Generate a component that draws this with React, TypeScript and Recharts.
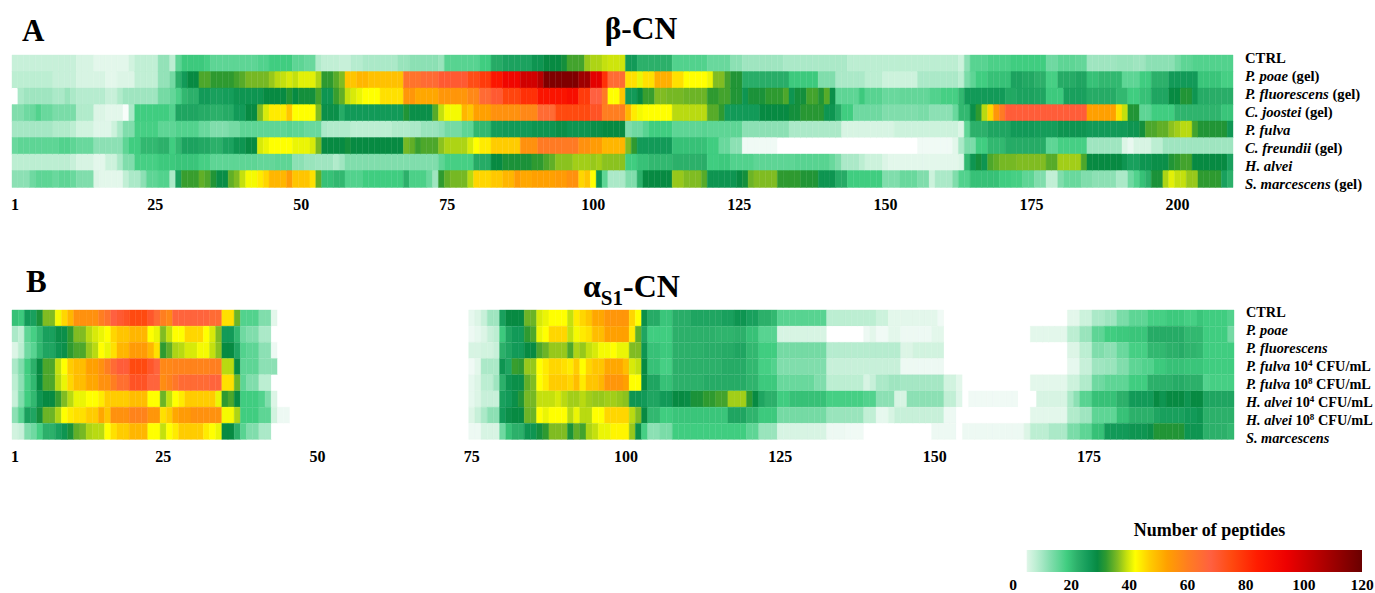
import { Bar, BarChart, Cell, XAxis, YAxis } from 'recharts';

// each run is [last residue of the run, number of peptides]
const betaCtrl = [[11,7],[14,5.5],[20,4],[21,6],[25,7.5],[27,11.5],[28,8],[29,16],[33,19],[34,18],[42,16],[44,17],[48,18.5],[50,16],[52,15],[53,9],[56,7.5],[58,7],[60,8.5],[66,9.5],[68,11],[73,12],[74,11],[80,16.5],[82,18.5],[84,23],[89,24.5],[91,27],[94,29],[95,30],[98,33],[99,37],[101,38],[102,39],[105,39.5],[107,26],[113,22],[119,17],[123,15],[125,12],[132,10.5],[143,9.5],[162,8],[163,6.5],[164,12],[167,16.5],[171,17.5],[177,18.5],[179,14.5],[182,16],[184,15.5],[189,10.5],[192,11],[194,10.5],[199,12],[200,14],[202,16],[209,17]];
const betaPoae = [[7,8],[11,7],[16,5.5],[18,4],[21,5],[25,7.5],[27,11.5],[28,14],[29,22],[30,26],[32,29],[34,33.5],[38,32],[39,33],[40,34],[44,35.5],[45,37],[46,38.5],[47,39],[48,40],[49,39],[52,40.5],[53,38],[55,32],[56,34],[57,36],[59,48],[61,50],[67,48.5],[70,63],[73,65],[78,70],[80,74],[82,78],[84,86],[87,92],[90,100],[91,105],[97,116],[99,110],[101,96],[102,80],[105,65],[107,45],[108,41],[110,45],[113,51],[115,45],[119,42],[120,41],[122,36],[123,33],[125,31],[133,22.5],[138,19],[139,13],[141,13],[146,9.5],[149,8],[155,6.5],[162,9.5],[163,8],[164,13.5],[165,16],[167,18.5],[171,20],[173,24.5],[175,23.5],[177,22],[179,18],[182,23],[184,24],[186,20],[190,21],[193,16],[195,18.5],[198,22],[203,26],[207,19.5],[209,18]];
const betaFluorescens = [[1,0],[2,9.5],[7,10.5],[9,9.5],[10,11],[11,9.5],[16,8.5],[18,7],[19,9],[25,10.5],[27,14],[28,15.5],[29,17.5],[30,21],[32,22],[34,26],[36,25],[38,25.5],[43,27],[47,29],[48,31],[49,29],[52,30],[53,33],[55,27],[56,32.5],[57,34.5],[58,39],[59,40],[60,41],[63,42],[67,45],[69,55],[73,52],[78,55],[80,58],[82,65],[84,70],[87,76],[90,80],[95,87],[97,89],[99,78],[101,68],[102,61],[104,42],[105,48],[107,26],[108,29],[110,32.5],[112,36],[115,35.5],[119,35],[121,32],[123,33],[125,31],[126,27],[129,30.5],[132,32],[133,33.5],[134,27],[136,30],[138,33],[139,31],[140,34],[141,28],[145,16],[146,19],[149,16.5],[152,15],[157,15.5],[159,17],[162,18],[163,21],[170,26],[172,23.5],[175,24.5],[177,24],[180,19],[184,25],[189,23],[191,21],[193,18.5],[195,20],[198,24],[200,29],[202,31],[203,27],[205,23],[209,22.5]];
const betaJoostei = [[2,13],[3,14.5],[4,15],[5,17],[7,15],[11,13.5],[14,9],[16,5],[19,4],[20,1],[21,9.5],[27,18.5],[28,17],[32,24],[34,23],[36,22],[38,23],[40,26],[42,29],[43,36],[44,40],[47,44],[48,48],[52,42],[53,36],[56,28],[57,23],[67,26],[68,31],[72,28],[73,34],[74,39],[77,41.5],[78,50],[79,48],[82,53],[87,56],[90,58],[93,65],[99,75],[101,72],[105,60],[106,50],[107,44],[108,41.5],[113,42],[119,38.5],[121,34],[122,32],[128,26],[133,29],[135,30],[139,31.5],[141,27],[142,23],[144,18.5],[149,14.5],[155,13],[157,13.5],[161,12],[162,15],[164,21],[165,28],[166,32],[167,38.5],[168,46],[169,55],[170,61],[184,69],[189,53],[190,45],[191,39],[193,31],[195,16],[199,18.5],[207,21.5],[209,19.5]];
const betaFulva = [[7,10],[10,9],[11,8],[14,6],[17,4.5],[18,6.5],[19,9.5],[21,13],[25,18],[28,16],[32,17],[34,15],[37,13],[39,14],[47,16],[48,16.5],[50,16],[53,15],[54,9.5],[58,9],[65,8],[68,9],[70,9.5],[73,11],[74,12],[77,14],[79,16],[82,21],[84,25.5],[89,26],[93,27],[95,28],[99,27],[101,28],[105,29],[106,13],[108,14.5],[109,16.5],[113,18.5],[118,16],[119,16.5],[125,16],[133,12],[142,9.5],[151,5.5],[162,6.5],[163,5],[164,16],[167,22],[171,24],[175,26],[179,25.5],[184,27],[191,26],[193,27],[194,30],[196,33.5],[198,34.5],[199,36.5],[200,37.5],[202,38.5],[203,33],[208,31],[209,26.5]];
const betaFreundii = [[1,15],[8,16],[10,17],[11,16],[14,15],[19,12],[20,16],[22,18.5],[25,21],[27,22],[28,18.5],[29,21],[32,24.5],[34,23.5],[36,22],[38,24.5],[40,27],[42,29],[43,40],[44,41],[48,42],[51,41],[52,40],[53,35.5],[57,29],[58,30],[67,29],[68,35.5],[69,34.5],[70,32.5],[73,33.5],[74,36.5],[78,38],[79,40],[80,42],[82,44],[87,47],[90,56],[97,61],[99,56],[101,54],[105,50],[106,36],[107,32],[113,26],[119,20],[121,18.5],[123,15],[125,12],[131,2],[155,0],[161,2],[162,4],[163,9.5],[165,13.5],[167,18.5],[170,21],[177,23],[179,16],[184,18],[190,10.5],[191,5],[192,3],[195,5.5],[197,8],[209,10.5]];
const betaAlvei = [[10,8],[11,7],[14,5.5],[16,4],[18,6.5],[19,9.5],[21,13],[25,18],[28,19],[32,19.5],[34,18],[42,16],[45,15.5],[48,16],[50,12],[52,11],[55,10.5],[56,9],[57,10.5],[65,13],[73,13],[74,16],[79,18],[82,23],[84,29],[89,30.5],[91,32],[92,33.5],[93,34.5],[96,36.5],[99,37.5],[100,37],[101,37.5],[105,36.5],[107,18.5],[109,20],[113,21],[118,22],[119,22.5],[121,18.5],[123,19],[127,17],[134,16],[140,16.5],[141,15],[142,13],[145,9.5],[146,8],[149,6.5],[150,5],[162,4],[163,5],[164,21],[165,27],[166,30],[167,27],[168,33.5],[169,34.5],[172,35.5],[177,36],[179,34],[183,37.5],[184,33.5],[190,29],[191,27],[193,25],[195,27],[198,28],[199,31],[200,32],[202,33],[208,29],[209,25]];
const betaMarcescens = [[3,12],[4,14.5],[7,16],[8,15],[10,16],[11,15],[14,13],[15,5],[19,4],[20,7.5],[22,9.5],[23,12],[25,16],[27,17],[28,9.5],[29,25],[32,32.5],[33,34.5],[34,33.5],[35,31],[37,28.5],[38,34.5],[39,36],[40,39],[42,41.5],[43,44],[44,46],[47,50],[48,54],[51,48],[52,45],[53,34.5],[55,20],[57,21],[60,17],[67,18.5],[68,22],[71,17.5],[72,15],[73,10.5],[74,32],[75,34.5],[78,35.5],[79,38.5],[82,46],[84,47.5],[86,50],[87,54],[89,52],[93,53],[95,54],[97,56],[98,46],[99,48],[100,42],[101,27],[102,16],[105,9.5],[107,13],[108,22],[113,29],[115,37],[118,36],[119,34],[124,27],[125,29],[126,30],[127,35],[131,36],[135,32],[138,31],[141,27],[143,23],[149,18.5],[152,13],[155,15],[157,13],[158,6.5],[161,9.5],[162,13],[164,17],[169,20],[171,18.5],[173,18],[175,16],[177,13],[179,7.5],[180,13],[183,15],[185,13],[189,12],[191,9.5],[192,14.5],[193,17],[194,20],[195,22],[197,30.5],[198,38],[199,40.5],[201,39],[203,37],[207,32],[208,25],[209,22]];

const alphaCtrl = [[1,20],[2,19],[3,26],[4,25],[5,30.5],[7,36],[8,41.5],[9,46],[10,50],[14,56],[15,60],[16,63],[17,68],[18,70],[19,72],[22,75],[23,71],[24,65],[25,60],[26,58],[32,67],[34,65],[36,45],[37,35],[40,17],[42,13],[43,4],[74,0],[75,3.5],[76,5],[77,7],[79,10.5],[80,25],[83,29],[85,35],[86,40],[87,41],[90,42],[91,39],[92,44],[93,46],[94,48],[96,52],[100,55],[101,46],[102,42],[103,28],[105,23],[107,19.5],[110,22.5],[115,24],[117,25],[119,27],[121,25],[123,22],[124,21],[132,16.5],[134,8],[140,8],[142,6.5],[150,4],[151,2],[171,0],[173,4],[175,6.5],[177,9.5],[179,10.5],[181,13.5],[184,16],[187,18],[190,19],[192,18],[193,19.5],[197,18.5],[198,17]];
const alphaPoae = [[1,9.5],[2,7.5],[3,16],[4,18],[5,21],[7,25],[9,28],[10,32],[12,36],[13,38.5],[14,40],[15,41],[16,42],[17,46],[19,48],[22,50],[23,42],[24,41],[25,36],[26,39],[28,42],[31,46],[32,42],[33,40],[34,36],[36,26],[37,21],[38,14.5],[40,13],[42,9.5],[74,0],[75,2.5],[76,3.5],[77,5],[78,7],[79,8],[80,19],[81,24],[83,26],[84,32],[85,33.5],[86,41],[87,42],[90,46],[91,39],[92,41.5],[93,44],[94,45],[96,49],[100,53],[101,44],[102,34.5],[103,24],[107,18.5],[114,22],[117,21.5],[119,22],[121,20],[124,16.5],[132,5.5],[138,0],[139,2.5],[140,4],[142,2],[144,4],[149,2.5],[151,4],[165,0],[171,4],[173,8],[175,11],[177,16],[179,18.5],[181,19],[184,19.5],[190,23],[193,21],[197,18.5],[198,14]];
const alphaFluorescens = [[1,5],[2,8],[3,14.5],[4,16.5],[5,21],[7,24],[8,27],[9,28],[10,32],[12,33.5],[13,37],[14,38.5],[15,42],[16,41],[17,45],[19,50],[22,54],[23,50],[24,45],[25,32],[26,34.5],[27,38],[28,38.5],[30,40],[32,41.5],[33,39],[34,36.5],[36,29],[37,24],[38,17],[40,16],[42,12],[43,2.5],[74,0],[76,5.5],[78,6],[79,7],[80,22],[81,24],[83,26],[85,29],[86,33.5],[87,35],[90,37],[91,33.5],[92,38],[93,37],[94,39],[95,40],[97,41.5],[98,42],[100,41],[102,36],[103,27],[105,20],[107,19],[112,22],[115,22.5],[117,23],[119,24],[121,21],[124,18.5],[132,14],[144,8.5],[146,5],[151,6],[171,0],[173,5],[175,8],[177,13],[179,12],[181,15],[184,18],[187,21],[189,22],[190,23],[192,21.5],[193,21],[198,18.5]];
const alphaFulva4 = [[1,9.5],[2,13],[3,18.5],[4,22],[5,29],[7,33.5],[8,39],[9,42],[10,47],[12,49],[14,53],[15,56],[16,60],[17,65],[19,69],[22,75],[23,71],[24,67],[26,58],[32,59],[34,60],[36,38.5],[37,29],[40,16],[43,12],[74,0],[75,2],[76,4],[79,9.5],[80,27],[81,24],[82,32.5],[83,32],[85,37],[86,42],[87,44],[89,46],[90,45],[91,44],[92,47],[93,42],[94,46],[96,48],[99,52],[100,49],[101,40],[102,39],[103,29],[105,20],[107,18],[115,22],[119,23],[121,21],[123,18],[124,17],[132,13],[144,7],[151,2.5],[171,0],[173,3.5],[175,7],[177,10.5],[179,11],[181,13],[183,16],[185,17],[187,19],[190,20],[193,19.5],[198,18.5]];
const alphaFulva8 = [[1,8],[2,12],[3,18],[4,21],[5,29],[7,33.5],[8,38.5],[9,41],[10,46],[12,49],[14,52],[16,56],[17,60],[19,64],[22,72],[24,67],[25,57],[26,59],[27,62],[32,65],[34,67],[36,45],[37,35],[38,16],[40,13],[42,8],[74,0],[75,3.5],[76,5],[78,8],[79,10.5],[80,22],[81,27],[83,28],[84,34.5],[85,36],[86,42],[87,44],[90,47],[91,46],[92,49],[93,44],[95,48],[96,50],[99,55],[100,53],[102,42],[103,29],[105,24],[107,20],[112,22],[119,23],[121,21.5],[124,19],[130,15],[132,13],[138,8],[139,5.5],[140,7],[142,9.5],[144,10.5],[151,10],[153,6],[154,4],[165,0],[171,4],[173,6.5],[175,9],[177,14.5],[181,16],[184,18.5],[188,22],[190,23],[193,22],[194,17],[198,18]];
const alphaAlvei4 = [[1,7],[2,13],[3,18.5],[4,21],[5,27],[7,29],[8,32.5],[9,36],[10,38.5],[12,41],[14,42],[15,44],[19,47],[22,49],[24,42],[25,35],[26,39],[27,42],[28,44],[33,47],[34,41],[35,32],[36,33.5],[37,29],[40,18.5],[41,17],[42,13],[43,5],[74,0],[75,3.5],[76,5],[79,7],[80,25],[81,26],[82,28],[83,31],[85,35.5],[87,39],[88,39],[89,40],[90,38.5],[92,37.5],[93,38.5],[94,37.5],[96,37],[98,37.5],[99,37],[100,36.5],[102,27],[103,26],[105,24],[107,26],[109,29],[110,28.5],[112,30.5],[114,32],[116,33],[119,37.5],[120,32],[121,29],[122,24],[124,22],[126,18.5],[132,20],[138,18],[140,17],[143,12],[145,5.5],[151,12],[153,7.5],[154,4.5],[155,0],[163,2],[166,0],[171,5.5],[172,9.5],[173,12],[175,16.5],[179,20],[181,22],[185,26],[186,29],[187,27],[190,29],[191,27],[193,29],[198,24]];
const alphaAlvei8 = [[1,12],[2,16.5],[3,25],[4,24],[5,30],[7,35],[8,38],[9,42],[10,44],[12,45],[14,47],[15,52],[16,48],[19,56],[22,59],[24,55],[25,45],[26,47],[27,52],[29,54],[34,56],[36,41.5],[37,38],[40,18.5],[42,16],[43,6],[45,2.5],[74,0],[75,5],[76,7],[77,9.5],[79,12],[80,26],[81,28],[83,29],[85,35],[86,42],[87,41],[90,42],[91,38.5],[92,41],[94,38.5],[96,42],[100,46],[101,38.5],[102,36],[103,29],[105,21],[107,18.5],[116,19.5],[119,24],[121,21.5],[124,19],[132,14],[138,11],[140,7.5],[142,3.5],[143,5.5],[151,7],[153,2.5],[165,0],[171,4],[173,9],[175,10.5],[179,16],[181,20],[185,22],[186,24],[190,25],[192,26],[193,27],[198,22]];
const alphaMarcescens = [[1,6],[2,7],[3,13],[4,14.5],[5,18],[7,22],[8,25],[9,27],[10,30.5],[11,34.5],[12,35.5],[13,38],[15,38.5],[16,42],[17,45],[19,47],[22,50],[24,42],[25,39],[26,42],[27,44],[31,47],[32,44],[33,42],[34,41],[36,29],[37,22],[38,16.5],[40,13],[42,9.5],[74,0],[76,2.5],[79,5.5],[80,14.5],[81,20],[83,22],[85,27],[86,30],[87,32],[90,36],[91,30.5],[92,34.5],[93,33],[94,38],[95,39],[97,41],[100,43],[101,37],[102,28],[103,18],[105,12],[107,13.5],[119,18.5],[121,16],[124,11],[132,5.5],[135,2.5],[138,2],[149,0],[153,2.5],[154,0],[164,2.5],[165,5],[168,8],[171,9.5],[173,13.5],[175,16],[177,20],[179,26],[181,26],[184,27],[185,28],[190,31],[193,27],[197,22],[198,21]];

const betaRows = [betaCtrl, betaPoae, betaFluorescens, betaJoostei, betaFulva, betaFreundii, betaAlvei, betaMarcescens];
const alphaRows = [alphaCtrl, alphaPoae, alphaFluorescens, alphaFulva4, alphaFulva8, alphaAlvei4, alphaAlvei8, alphaMarcescens];

// [italic part, plain part]
const betaLabels = [['', 'CTRL'], ['P. poae', ' (gel)'], ['P. fluorescens', ' (gel)'], ['C. joostei', ' (gel)'], ['P. fulva', ''], ['C. freundii', ' (gel)'], ['H. alvei', ''], ['S. marcescens', ' (gel)']];
const alphaLabels = [['', 'CTRL'], ['P. poae', ''], ['P. fluorescens', ''], ['P. fulva', ' 10^4 CFU/mL'], ['P. fulva', ' 10^8 CFU/mL'], ['H. alvei', ' 10^4 CFU/mL'], ['H. alvei', ' 10^8 CFU/mL'], ['S. marcescens', '']];

const betaTicks = [1, 25, 50, 75, 100, 125, 150, 175, 200];
const alphaTicks = [1, 25, 50, 75, 100, 125, 150, 175];
const legendTicks = [0, 20, 40, 60, 80, 100, 120];

const colorStops: [number, string][] = [
  [0, '#ffffff'], [2, '#f0faf5'], [5, '#dcf5e6'], [8, '#bceed2'], [10, '#a5e7c4'], [13, '#80ddac'], [16, '#5ed595'], [18.5, '#40cd80'],
  [22, '#2cb06a'], [26, '#129a58'], [29, '#078a42'], [32, '#2e9a30'], [36, '#80bc22'], [39, '#c4e00e'], [42, '#ffff00'], [47, '#ffcc00'],
  [53, '#ffa000'], [60, '#ff7e20'], [68, '#ff6040'], [75, '#ff4a10'], [84, '#ff1c00'], [94, '#ee0000'], [105, '#b80000'], [120, '#6a0000'],
];

const serif = '"Liberation Serif", "Times New Roman", serif';
const topRoom = 14;

function toRgb(hex: string) {
  return [1, 3, 5].map((i) => parseInt(hex.slice(i, i + 2), 16));
}

function peptideColor(v: number) {
  for (let i = 1; i < colorStops.length; i++) {
    const [v1, c1] = colorStops[i];
    if (v <= v1) {
      const [v0, c0] = colorStops[i - 1];
      const t = (v - v0) / (v1 - v0);
      const a = toRgb(c0);
      const b = toRgb(c1);
      return `rgb(${a.map((x, k) => Math.round(x + (b[k] - x) * t)).join(',')})`;
    }
  }
  return colorStops[colorStops.length - 1][1];
}

// one value per residue from the runs
function expand(runs: number[][], n: number) {
  const out: number[] = [];
  runs.forEach(([end, v]) => {
    while (out.length < end && out.length < n) out.push(v);
  });
  while (out.length < n) out.push(0);
  return out;
}

function RowLabel({ x, y, payload, labels, shift, fontSize }: any) {
  const i = payload.value;
  const [italic, plain] = labels[i];
  const m = plain.match(/^(.*)\^(\d)(.*)$/);
  return (
    <text x={x + 4} y={y + shift[0] + shift[1] * i} dy={4.5} fontFamily={serif} fontSize={fontSize} fontWeight="bold" fill="#000">
      {italic && <tspan fontStyle="italic">{italic}</tspan>}
      {m ? (
        <>
          <tspan>{m[1]}</tspan>
          <tspan fontSize={9} dy={-5}>{m[2]}</tspan>
          <tspan dy={5}>{m[3]}</tspan>
        </>
      ) : (
        <tspan>{plain}</tspan>
      )}
    </text>
  );
}

function Heatmap({ rows, labels, ticks, columns, top, height, axisWidth, shift, tickMargin, labelSize }: any) {
  const values = rows.map((r: number[][]) => expand(r, columns));
  const keys = Array.from({ length: columns }, (_, c) => `r${c + 1}`);
  const table = values.map((_: number[], i: number) => {
    const row: any = { row: i };
    keys.forEach((k) => (row[k] = 1));
    return row;
  });
  return (
    <div style={{ position: 'absolute', left: 0, top: top - topRoom }}>
      <BarChart
        layout="vertical"
        width={1375}
        height={height + 34 + topRoom}
        data={table}
        barCategoryGap={0}
        margin={{ top: topRoom, right: 0, bottom: 0, left: 12 }}
      >
        <XAxis
          type="number"
          domain={[0, columns]}
          ticks={ticks.map((t: number) => t - 0.5)}
          tickFormatter={(v: number) => String(v + 0.5)}
          interval={0}
          height={34}
          axisLine={false}
          tickLine={false}
          tickMargin={tickMargin}
          tick={{ fontFamily: serif, fontSize: 16, fontWeight: 'bold', fill: '#000' }}
        />
        <YAxis
          type="category"
          dataKey="row"
          orientation="right"
          width={axisWidth}
          axisLine={false}
          tickLine={false}
          interval={0}
          tick={<RowLabel labels={labels} shift={shift} fontSize={labelSize} />}
        />
        {keys.map((k, c) => (
          <Bar key={k} dataKey={k} stackId="residues" isAnimationActive={false}>
            {values.map((row: number[], i: number) => (
              <Cell key={i} fill={peptideColor(row[c])} stroke={row[c] > 0 ? peptideColor(row[c]) : 'none'} strokeWidth={0.4} />
            ))}
          </Bar>
        ))}
      </BarChart>
    </div>
  );
}

function PeptideScale() {
  const start = 4.5;
  return (
    <div style={{ position: 'absolute', left: 1000, top: 550 }}>
      <BarChart
        layout="vertical"
        width={375}
        height={43}
        data={[{ name: 'peptides', range: [start, 120] }]}
        barCategoryGap={0}
        margin={{ top: 0, right: 13, bottom: 0, left: 13 }}
      >
        <defs>
          <linearGradient id="peptideScale" x1="0" y1="0" x2="1" y2="0">
            <stop offset="0" stopColor="#ffffff" />
            {colorStops
              .filter(([v]) => v > start)
              .map(([v, c]) => (
                <stop key={v} offset={(v - start) / (120 - start)} stopColor={c} />
              ))}
          </linearGradient>
        </defs>
        <XAxis
          type="number"
          domain={[0, 120]}
          ticks={legendTicks}
          interval={0}
          height={21}
          axisLine={false}
          tickLine={false}
          tickMargin={1}
          tick={{ fontFamily: serif, fontSize: 15.5, fontWeight: 'bold', fill: '#000' }}
        />
        <YAxis type="category" dataKey="name" hide />
        <Bar dataKey="range" fill="url(#peptideScale)" isAnimationActive={false} />
      </BarChart>
    </div>
  );
}

export default function App() {
  return (
    <div style={{ position: 'absolute', left: 0, top: 0, width: 1375, height: 593, background: '#fff', overflow: 'hidden' }}>
      <Heatmap rows={betaRows} labels={betaLabels} ticks={betaTicks} columns={209} top={55} height={132} axisWidth={142} shift={[-5.25, 1.5]} tickMargin={6} labelSize={14.7} />
      <Heatmap rows={alphaRows} labels={alphaLabels} ticks={alphaTicks} columns={198} top={310} height={129.6} axisWidth={141} shift={[-6, 1.8]} tickMargin={5} labelSize={14.3} />
      <PeptideScale />
      <svg width={1375} height={593} style={{ position: 'absolute', left: 0, top: 0, pointerEvents: 'none' }} fontFamily={serif} fontWeight="bold" fill="#000">
        <text x={22} y={41} fontSize={31}>A</text>
        <text x={26} y={292} fontSize={31}>B</text>
        <text x={641} y={39} fontSize={31.5} textAnchor="middle">β-CN</text>
        <text x={583} y={297} fontSize={32}>
          α<tspan fontSize={21} dy={8}>S1</tspan><tspan dy={-8}>-CN</tspan>
        </text>
        <text x={1209.5} y={536} fontSize={18} textAnchor="middle">Number of peptides</text>
      </svg>
    </div>
  );
}
